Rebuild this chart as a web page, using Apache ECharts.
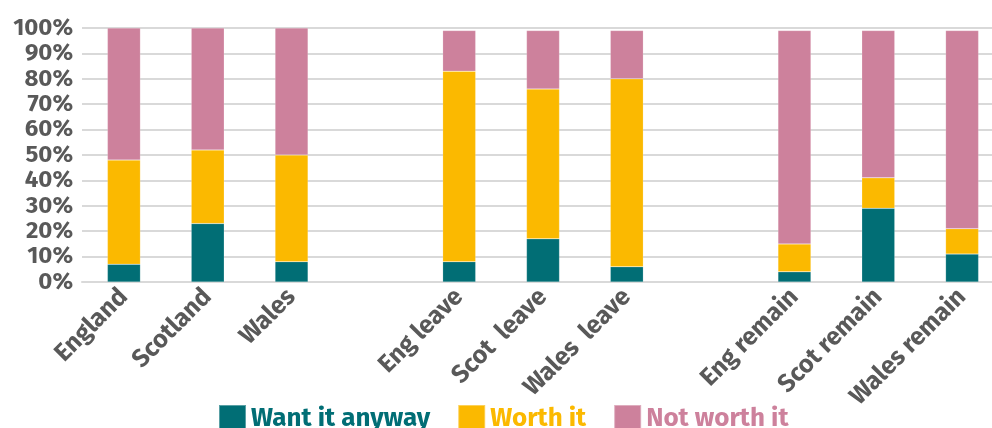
<!DOCTYPE html>
<html><head><meta charset="utf-8">
<script src="https://cdn.jsdelivr.net/npm/echarts@6/dist/echarts.min.js"></script>
<style>html,body{margin:0;padding:0;background:#fff}#c{width:992px;height:428px}</style>
</head><body><div id="c"></div>
<script>
const categories = ['England','Scotland','Wales','','Eng leave','Scot  leave','Wales  leave','','Eng remain','Scot remain','Wales remain'];
const wantItAnyway = [7, 23, 8, null, 8, 17, 6, null, 4, 29, 11];
const worthIt      = [41, 29, 42, null, 75, 59, 74, null, 11, 12, 10];
const notWorthIt   = [52, 48, 50, null, 16, 23, 19, null, 84, 58, 78];
const yTicks = ['0%','10%','20%','30%','40%','50%','60%','70%','80%','90%','100%'];

const colors = {want:'#016E75', worth:'#FBB900', not:'#CD819C'};
const font = "'Fira Sans','Open Sans','Noto Sans',sans-serif";
const chart = echarts.init(document.getElementById('c'));
function bar(name, data, color){
  return {name, type:'bar', stack:'t', data, barWidth:33,
    itemStyle:{color, borderColor:'rgba(255,255,255,0.35)', borderWidth:0.5}};
}
chart.setOption({
  animation:false,
  grid:{left:82, top:28, bottom:146, width:922, outerBoundsMode:'none', containLabel:false},
  legend:{
    top:399, left:213, itemWidth:27, itemHeight:27, itemGap:27, icon:'rect',
    textStyle:{fontFamily:font, fontWeight:'bold', fontSize:26},
    data:[
      {name:'Want it anyway', textStyle:{color:colors.want}},
      {name:'Worth it', textStyle:{color:colors.worth}},
      {name:'Not worth it', textStyle:{color:colors.not}}
    ]
  },
  xAxis:{type:'category', data:categories,
    axisLine:{lineStyle:{color:'#d9d9d9', width:2}},
    axisTick:{show:false},
    axisLabel:{rotate:45, interval:0, color:'#595959', fontFamily:font, fontWeight:'bold', fontSize:25, margin:11}
  },
  yAxis:{type:'value', min:0, max:100, interval:10,
    axisLine:{show:false}, axisTick:{show:false},
    splitLine:{lineStyle:{color:'#d9d9d9', width:2}},
    axisLabel:{color:'#595959', fontFamily:font, fontWeight:'bold', fontSize:24, margin:9,
      formatter:(v)=>yTicks[Math.round(v/10)]}
  },
  series:[
    bar('Want it anyway', wantItAnyway, colors.want),
    bar('Worth it', worthIt, colors.worth),
    bar('Not worth it', notWorthIt, colors.not)
  ]
});
</script></body></html>
